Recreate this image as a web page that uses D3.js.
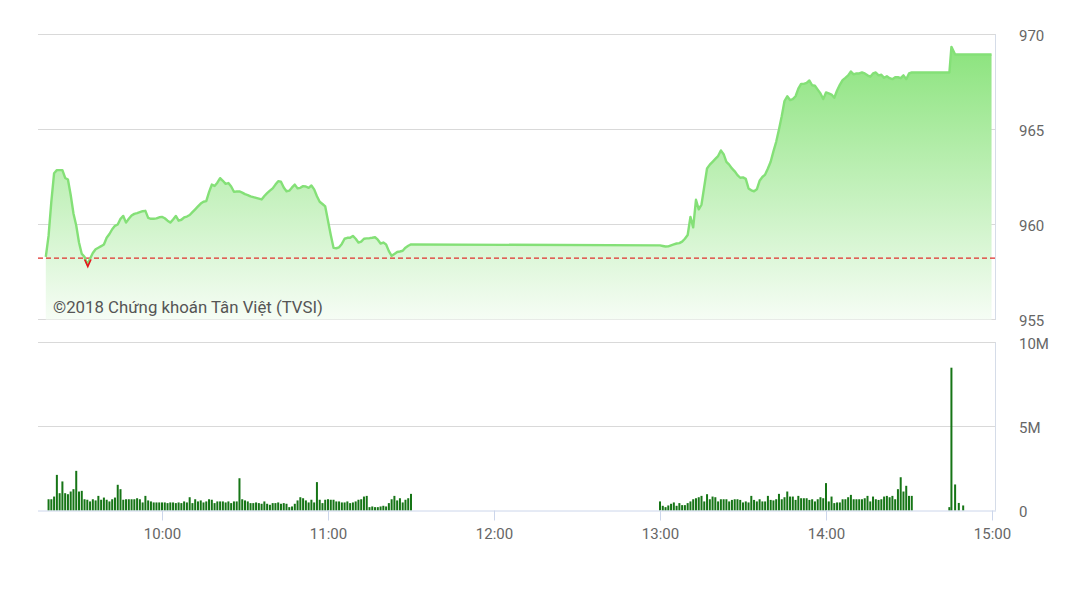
<!DOCTYPE html>
<html><head><meta charset="utf-8">
<script src="https://cdn.jsdelivr.net/npm/d3@7"></script>
<style>body{margin:0;background:#fff;} svg{display:block;font-family:Roboto, sans-serif;}</style>
</head><body><svg id="c" width="1079" height="606"></svg>
<script>
// ---------- DATA ----------
const amStart = "09:18";   // one price per minute
const amPrices = [958.3,959.4,961.2,962.7,962.86,962.86,962.86,962.45,962.37,961.55,960.58,959.95,959.05,958.45,958.3,957.9,958.2,958.5,958.7,958.78,958.86,958.95,959.3,959.5,959.75,959.93,960.0,960.3,960.45,960.1,960.3,960.47,960.56,960.6,960.65,960.7,960.72,960.35,960.3,960.3,960.32,960.38,960.4,960.33,960.2,960.1,960.26,960.45,960.2,960.25,960.37,960.42,960.5,960.65,960.8,960.95,961.1,961.2,961.23,961.7,962.1,962.03,962.2,962.44,962.3,962.14,962.18,962.0,961.72,961.74,961.74,961.68,961.6,961.55,961.48,961.44,961.4,961.36,961.32,961.5,961.65,961.78,961.9,962.1,962.28,962.25,961.95,961.75,961.78,961.95,962.1,961.9,961.93,962.02,962.0,961.93,962.05,961.85,961.49,961.2,961.08,960.95,960.2,959.45,958.77,958.75,958.8,958.98,959.25,959.3,959.3,959.4,959.25,959.05,959.1,959.25,959.27,959.28,959.3,959.33,959.2,959.0,959.05,958.95,958.6,958.35,958.45,958.55,958.58,958.62,958.78,958.88,958.95];
const pmStart = "13:00";
const pmPrices = [958.9,958.87,958.84,958.85,958.9,958.95,959.0,959.02,959.1,959.25,959.45,960.4,959.85,961.3,960.8,961.05,962.0,962.95,963.15,963.3,963.45,963.6,963.9,963.7,963.3,963.15,962.95,962.8,962.6,962.46,962.48,962.4,961.9,961.8,961.75,961.85,962.3,962.5,962.63,962.95,963.3,963.85,964.35,965.0,965.7,966.5,966.75,966.55,966.6,966.75,967.15,967.4,967.4,967.45,967.58,967.33,967.3,967.1,966.9,966.6,966.95,966.9,966.84,966.67,967.05,967.35,967.6,967.72,967.85,968.05,967.9,967.95,967.95,968.0,967.95,967.85,967.78,967.95,968.0,967.85,967.88,967.72,967.8,967.7,967.65,967.75,967.75,967.7,967.85,967.65,967.95,968.0];
const atcTimes = ["14:44:36","14:45:20","14:46:40","14:59:50"];
const atcPrices = [968.0,969.35,968.95,968.95];
const refPrice = 958.23;

const amVolStart = "09:19";  // millions of shares per minute
const amVolumes = [0.67,0.67,0.83,2.12,1.03,1.73,1.03,0.97,1.13,1.27,2.36,1.13,1.17,0.67,0.64,0.54,0.67,0.6,0.87,0.64,0.77,0.64,0.54,0.67,0.77,1.53,1.27,0.64,0.67,0.67,0.67,0.67,0.73,0.67,0.48,0.87,0.6,0.54,0.48,0.48,0.48,0.48,0.48,0.44,0.48,0.48,0.44,0.48,0.44,0.54,0.48,0.79,0.44,0.67,0.54,0.6,0.48,0.54,0.67,0.64,0.44,0.54,0.54,0.54,0.48,0.54,0.44,0.54,0.54,1.92,0.67,0.6,0.54,0.44,0.44,0.48,0.44,0.4,0.54,0.4,0.34,0.44,0.44,0.48,0.4,0.44,0.4,0.2,0.24,0.4,0.6,0.79,0.73,0.6,0.48,0.64,0.48,1.69,0.64,0.44,0.64,0.67,0.64,0.64,0.54,0.54,0.48,0.48,0.54,0.44,0.48,0.54,0.64,0.67,0.83,0.87,0.2,0.24,0.2,0.2,0.24,0.28,0.24,0.44,0.67,0.87,0.6,0.73,0.48,0.64,0.73,0.99];
const pmVolStart = "13:00";
const pmVolumes = [0.54,0.28,0.2,0.3,0.4,0.48,0.28,0.44,0.32,0.32,0.44,0.54,0.67,0.73,0.79,0.87,0.54,0.97,0.67,0.83,0.79,0.54,0.67,0.67,0.67,0.54,0.63,0.67,0.67,0.63,0.48,0.54,0.48,0.87,0.63,0.54,0.67,0.54,0.54,0.87,0.63,0.6,0.67,0.99,0.67,0.79,1.13,0.83,0.83,0.63,0.87,0.73,0.73,0.73,0.63,0.67,0.54,0.67,0.79,0.73,1.63,0.54,0.83,0.44,0.48,0.48,0.67,0.67,0.79,0.93,0.67,0.67,0.67,0.67,0.73,0.87,0.54,0.83,0.67,0.63,0.67,0.83,0.87,0.79,0.87,0.67,1.27,1.98,1.13,1.47,0.87,0.87];
const atcVolTimes = ["14:44:35","14:45:20","14:46:40","14:48:00","14:49:35"];
const atcVolumes = [0.2,8.5,1.55,0.45,0.3];

const priceTicks = [955,960,965,970];
const volTicks = [0,5,10];
const volTickLabels = ["0","5M","10M"];
const timeTicks = ["10:00","11:00","12:00","13:00","14:00","15:00"];
const watermark = "©2018 Chứng khoán Tân Việt (TVSI)";

// ---------- BUILD ----------
const parseT = s => d3.timeParse(s.length > 5 ? "%H:%M:%S" : "%H:%M")(s);
const seq = (start, vals) => vals.map((v,i) => ({t: d3.timeMinute.offset(parseT(start), i), v}));
const priceData = seq(amStart, amPrices)
  .concat(seq(pmStart, pmPrices))
  .concat(atcTimes.map((s,i)=>({t: parseT(s), v: atcPrices[i]})));
const volData = seq(amVolStart, amVolumes)
  .concat(seq(pmVolStart, pmVolumes))
  .concat(atcVolTimes.map((s,i)=>({t: parseT(s), v: atcVolumes[i]})));

const svg = d3.select("#c");
const left = 38, right = 996;
const x = d3.scaleTime().domain([parseT("09:15"), parseT("15:00")]).range([37.5, 992]);
const y = d3.scaleLinear().domain([955, 970]).range([319.5, 34.5]);
const yv = d3.scaleLinear().domain([0, 10]).range([510.5, 342.5]);

const defs = svg.append("defs");
const grad = defs.append("linearGradient").attr("id","g").attr("gradientUnits","userSpaceOnUse")
  .attr("x1",0).attr("x2",0).attr("y1",y(970)).attr("y2",y(955));
grad.append("stop").attr("offset",0).attr("stop-color","#86e277");
grad.append("stop").attr("offset",1).attr("stop-color","#f6fdf5");

// grid top
svg.append("g").selectAll("line").data(priceTicks).join("line")
  .attr("x1",left).attr("x2",right).attr("y1",d=>y(d)).attr("y2",d=>y(d))
  .attr("stroke","#d9d9d9").attr("stroke-width",1);
svg.append("line").attr("x1",right-0.5).attr("x2",right-0.5).attr("y1",y(970)).attr("y2",y(955))
  .attr("stroke","#d5dce8");

// area + line
const area = d3.area().x(d=>x(d.t)).y0(y(955)).y1(d=>y(d.v));
svg.append("path").datum(priceData).attr("d",area).attr("fill","url(#g)");

svg.append("text").attr("x",53).attr("y",313).attr("font-size",16.8).attr("fill","#555")
  .text(watermark);

svg.append("line").attr("x1",left).attr("x2",right).attr("y1",y(refPrice)).attr("y2",y(refPrice))
  .attr("stroke","#e0302c").attr("stroke-width",1.4).attr("stroke-dasharray","5,3");

const line = d3.line().x(d=>x(d.t)).y(d=>y(d.v));
svg.append("path").datum(priceData).attr("d",line).attr("fill","none")
  .attr("stroke","#84e077").attr("stroke-width",2.4).attr("stroke-linejoin","round");

// min marker
const minPt = priceData.reduce((a,b)=> b.v < a.v ? b : a);
svg.append("path").attr("transform",`translate(${x(minPt.t)+0.5},${y(minPt.v)})`)
  .attr("d","M-4,-5 L0,4 L4,-5 L2.2,-5 L0,0 L-2.2,-5 Z").attr("fill","#e8141b");

// price axis
const ya = svg.append("g").attr("transform",`translate(${right},0)`)
  .call(d3.axisRight(y).tickValues(priceTicks).tickSize(0).tickPadding(23).tickFormat(d3.format("d")));
ya.select(".domain").remove();
ya.selectAll("text").attr("font-size",15).attr("fill","#666").attr("font-family","Roboto, sans-serif").attr("dy","0.42em");

// volume grid
svg.append("g").selectAll("line").data(volTicks.slice(1)).join("line")
  .attr("x1",left).attr("x2",right).attr("y1",d=>yv(d)).attr("y2",d=>yv(d))
  .attr("stroke","#d9d9d9");
svg.append("line").attr("x1",right-0.5).attr("x2",right-0.5).attr("y1",yv(10)).attr("y2",yv(0))
  .attr("stroke","#d5dce8");

// bars
svg.append("g").selectAll("rect").data(volData).join("rect")
  .attr("x",d=>x(d.t)-1).attr("width",2)
  .attr("y",d=>yv(d.v)).attr("height",d=>yv(0)-yv(d.v))
  .attr("fill","#167516");

// volume axis labels
const va = svg.append("g").attr("transform",`translate(${right},0)`)
  .call(d3.axisRight(yv).tickValues(volTicks).tickSize(0).tickPadding(23).tickFormat((d,i)=>volTickLabels[i]));
va.select(".domain").remove();
va.selectAll("text").attr("font-size",15).attr("fill","#666").attr("font-family","Roboto, sans-serif").attr("dy","0.42em");

// x axis
const xa = svg.append("g").attr("transform",`translate(0,${yv(0)})`)
  .call(d3.axisBottom(x).tickValues(timeTicks.map(parseT)).tickSize(10).tickPadding(8).tickFormat(d3.timeFormat("%H:%M")));
xa.select(".domain").attr("d",`M${left},0.5H${right}`).attr("stroke","#ccd6eb");
xa.selectAll(".tick line").attr("stroke","#ccd6eb");
xa.selectAll("text").attr("font-size",15).attr("fill","#666").attr("font-family","Roboto, sans-serif");
</script></body></html>
